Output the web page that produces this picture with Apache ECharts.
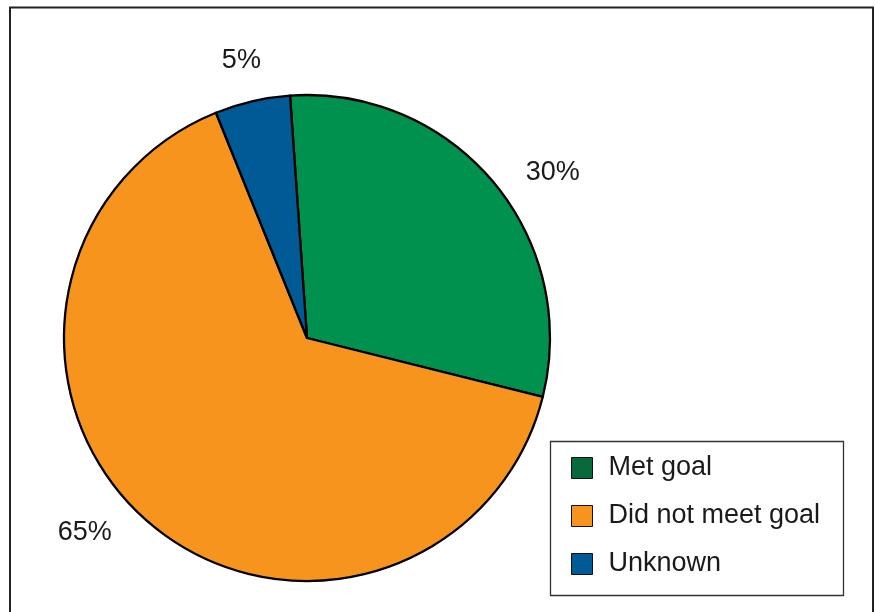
<!DOCTYPE html>
<html>
<head>
<meta charset="utf-8">
<script src="https://cdn.jsdelivr.net/npm/echarts@6/dist/echarts.min.js"></script>
<style>
html,body{margin:0;padding:0;background:#fff;}
#chart{width:877px;height:612px;}
</style>
</head>
<body>
<div id="chart"></div>
<script>
const categories = ['Met goal', 'Did not meet goal', 'Unknown'];
const values = [30, 65, 5];
const sliceColors = ['#00914f', '#f7941d', '#005a96'];
const legendColors = ['#086a3a', '#f7941d', '#005a96'];

// per-slice label placement (line length, distance from line end)
const labelLen = [15, 15, 42];
const labelDist = [21, 26, -18];

const chart = echarts.init(document.getElementById('chart'), null, {renderer: 'canvas'});
const font = '"Liberation Sans", Arial, Helvetica, sans-serif';

const option = {
  animation: false,
  backgroundColor: '#ffffff',
  textStyle: {fontFamily: font},
  graphic: [
    {type: 'rect', shape: {x: 10, y: 7.5, width: 863, height: 620},
     style: {fill: 'none', stroke: '#222', lineWidth: 2}, z: 0},
    {type: 'rect', shape: {x: 550.5, y: 441.5, width: 293, height: 154},
     style: {fill: '#fff', stroke: '#333', lineWidth: 1.3}, z: 1}
  ],
  legend: {
    orient: 'vertical',
    left: 566,
    top: 448,
    itemWidth: 21,
    itemHeight: 21,
    itemGap: 18,
    icon: 'rect',
    z: 5,
    textStyle: {fontSize: 27, color: '#1a1a1a', fontFamily: font, padding: [0, 0, 0, 11], lineHeight: 30},
    data: categories.map((c, i) => ({
      name: c,
      itemStyle: {color: legendColors[i], borderColor: '#111', borderWidth: 1}
    }))
  },
  series: [{
    type: 'pie',
    center: [307, 338],
    radius: 243,
    startAngle: 94,
    clockwise: true,
    avoidLabelOverlap: false,
    z: 2,
    itemStyle: {borderColor: '#000', borderWidth: 2.3},
    label: {
      show: true,
      position: 'outside',
      fontSize: 27,
      color: '#1a1a1a',
      fontFamily: font,
      formatter: p => p.value + '%'
    },
    labelLine: {show: false, length2: 0},
    emphasis: {disabled: true},
    data: categories.map((c, i) => ({
      name: c,
      value: values[i],
      itemStyle: {color: sliceColors[i]},
      labelLine: {show: false, length: labelLen[i], length2: 0},
      label: {distanceToLabelLine: labelDist[i]}
    }))
  }]
};
chart.setOption(option);
</script>
</body>
</html>
